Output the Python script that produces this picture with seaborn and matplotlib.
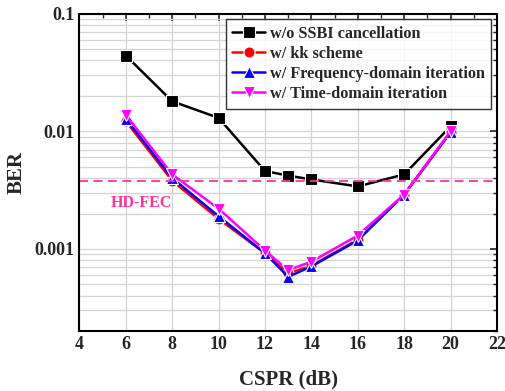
import matplotlib
matplotlib.use("Agg")
import matplotlib.pyplot as plt
import seaborn as sns
import pandas as pd
import numpy as np
from matplotlib.ticker import LogLocator, FixedLocator, MultipleLocator, NullFormatter

cspr = [6, 8, 10, 12, 13, 14, 16, 18, 20]
ber_wo = [0.044, 0.018, 0.013, 0.0046, 0.0042, 0.0039, 0.0034, 0.0043, 0.011]
ber_kk = [0.0122, 0.0038, 0.0018, 0.00092, 0.00062, 0.00072, 0.00120, 0.0029, 0.0098]
ber_fd = [0.0128, 0.0040, 0.0019, 0.00092, 0.00058, 0.00071, 0.00118, 0.0029, 0.0098]
ber_td = [0.0138, 0.0043, 0.0022, 0.00097, 0.00066, 0.00078, 0.00130, 0.0029, 0.0100]
series_names = ["w/o SSBI cancellation", "w/ kk scheme",
                "w/ Frequency-domain iteration", "w/ Time-domain iteration"]
hd_fec = 3.8e-3
y_ticks = [0.001, 0.01, 0.1]
y_tick_labels = ["0.001", "0.01", "0.1"]

sns.set_style("white")
plt.rcParams['font.family'] = ['Liberation Serif', 'DejaVu Serif']
plt.rcParams['font.weight'] = 'bold'

df = pd.DataFrame({
    "CSPR": cspr * 4,
    "BER": ber_wo + ber_kk + ber_fd + ber_td,
    "series": sum([[n] * len(cspr) for n in series_names], []),
})

fig = plt.figure(figsize=(5.06, 3.91), dpi=100)
ax = fig.add_axes([0.157, 0.153, 0.825, 0.812])

colors = ["black", "red", "blue", "magenta"]
markers = ["s", "o", "^", "v"]
sns.lineplot(data=df, x="CSPR", y="BER", hue="series", style="series",
             palette=colors, markers=markers, dashes=False, markersize=8,
             linewidth=1.8, markeredgewidth=0.8, ax=ax, legend=True)

ax.set_yscale("log")
ax.set_xlim(4, 22)
ax.set_ylim(2e-4, 0.1)
ax.xaxis.set_major_locator(MultipleLocator(2))
ax.xaxis.set_minor_locator(MultipleLocator(1))
ax.yaxis.set_major_locator(FixedLocator(y_ticks))
ax.set_yticklabels(y_tick_labels)
ax.yaxis.set_minor_locator(LogLocator(base=10, subs=np.arange(2, 10)))
ax.yaxis.set_minor_formatter(NullFormatter())

ax.grid(True, which="major", color="#d4d4d4", linewidth=0.9)
ax.grid(True, which="minor", axis="y", color="#d4d4d4", linewidth=0.9)
ax.set_axisbelow(True)

ax.tick_params(which="both", direction="in", top=True, right=True,
               labelsize=13)
ax.tick_params(which="major", length=5, width=1.2)
ax.tick_params(which="minor", length=3, width=1)
for lab in ax.get_xticklabels() + ax.get_yticklabels():
    lab.set_fontweight("bold")
for s in ax.spines.values():
    s.set_linewidth(1.5)
    s.set_color("black")

ax.axhline(hd_fec, color="#ff3399", linestyle=(0, (5, 3)), linewidth=1.3)
ax.text(5.35, 2.45e-3, "HD-FEC", color="#ff3399", fontsize=11.5,
        fontweight="bold", va="center", ha="left")

ax.set_xlabel("CSPR (dB)", fontsize=15, fontweight="bold", labelpad=12)
ax.set_ylabel("BER", fontsize=15, fontweight="bold", labelpad=6)

leg = ax.legend(loc="upper right", frameon=True, fancybox=False,
                edgecolor="black", borderpad=0.4, labelspacing=0.25,
                handlelength=2.0, handletextpad=0.3, borderaxespad=0.35,
                prop={"weight": "bold", "size": 11.7})
leg.get_frame().set_linewidth(1.0)
leg.set_title(None)

fig.savefig("out.png", dpi=100)
